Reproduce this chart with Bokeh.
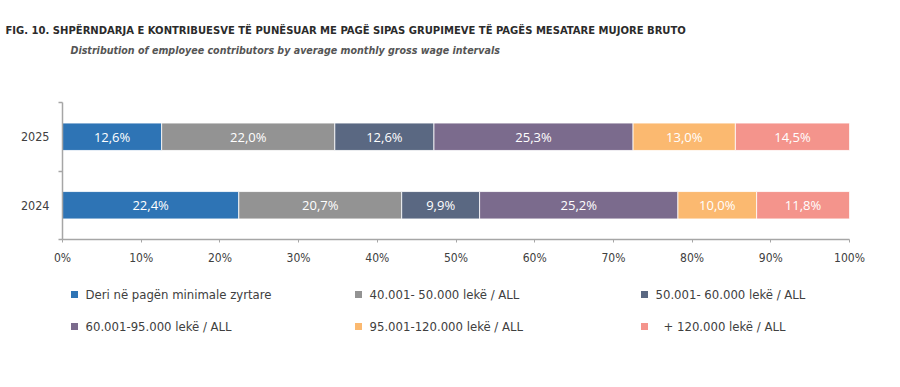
from bokeh.plotting import figure
from bokeh.layouts import column
from bokeh.models import Range1d, FixedTicker, ColumnDataSource, Title
from bokeh.core.properties import value
from bokeh.embed import file_html
from bokeh.resources import INLINE

# ---- data -------------------------------------------------------------
years = ["2025", "2024"]
year_pos = [1, 0]

series_names = [
    "Deri në pagën minimale zyrtare",
    "40.001- 50.000 lekë / ALL",
    "50.001- 60.000 lekë / ALL",
    "60.001-95.000 lekë / ALL",
    "95.001-120.000 lekë / ALL",
    "+ 120.000 lekë / ALL",
]
s_min_wage = [12.6, 22.4]
s_40_50 = [22.0, 20.7]
s_50_60 = [12.6, 9.9]
s_60_95 = [25.3, 25.2]
s_95_120 = [13.0, 10.0]
s_120_plus = [14.5, 11.8]
series_values = [s_min_wage, s_40_50, s_50_60, s_60_95, s_95_120, s_120_plus]

x_ticks = [0, 10, 20, 30, 40, 50, 60, 70, 80, 90, 100]
x_tick_labels = ["0%", "10%", "20%", "30%", "40%", "50%", "60%", "70%", "80%", "90%", "100%"]

title_text = "FIG. 10. SHPËRNDARJA E KONTRIBUESVE TË PUNËSUAR ME PAGË SIPAS GRUPIMEVE TË PAGËS MESATARE MUJORE BRUTO"
subtitle_text = "Distribution of employee contributors by average monthly gross wage intervals"

colors = ["#2e74b5", "#939393", "#5a6882", "#7b6b8d", "#fbb970", "#f4948c"]

NARROW = "DejaVu Sans Condensed"
TEXT_COL = "#404040"
W = 900
LEFT, RIGHT = 62, 51   # frame borders shared by all three strips


def strip(height):
    """A blank strip whose data units are canvas pixels (y grows downward)."""
    f = figure(width=W, height=height, x_range=Range1d(LEFT, W - RIGHT), y_range=Range1d(height, 0),
               toolbar_location=None, output_backend="svg")
    f.axis.visible = False
    f.grid.visible = False
    f.outline_line_color = None
    f.min_border = 0
    f.min_border_left = LEFT
    f.min_border_right = RIGHT
    return f


# ---- title strip (titles stack outward from the frame) -----------------
top_h = 95
top = figure(width=W, height=top_h, x_range=Range1d(0, 1), y_range=Range1d(0, 1),
             toolbar_location=None, output_backend="svg", title=None)
top.axis.visible = False
top.grid.visible = False
top.outline_line_color = None
top.min_border = 0
top.min_border_left = LEFT
top.min_border_right = RIGHT
top.min_border_top = 60
top.min_border_bottom = 0
top.add_layout(Title(text=subtitle_text, align="left", offset=70 - LEFT, standoff=9,
                     text_font=NARROW, text_font_style="bold italic",
                     text_font_size="10.6px", text_color="#555555"), "above")
top.add_layout(Title(text=title_text, align="left", offset=5 - LEFT, standoff=2,
                     text_font=NARROW, text_font_style="bold",
                     text_font_size="11.15px", text_color="#2b2b2b"), "above")

# ---- stacked bars ------------------------------------------------------
mid_h = 175
p = figure(width=W, height=mid_h, x_range=Range1d(0, 100), y_range=Range1d(-0.5, 1.5),
           toolbar_location=None, output_backend="svg")
p.min_border_left = LEFT
p.min_border_right = RIGHT
p.min_border_top = 7
p.min_border_bottom = 31
p.outline_line_color = None
p.grid.visible = False

keys = [f"s{i}" for i in range(len(series_values))]
data = {"y": year_pos}
for k, vals in zip(keys, series_values):
    data[k] = vals
src = ColumnDataSource(data)
p.hbar_stack(keys, y="y", height=0.4, color=colors, line_color="white", line_width=0.8, source=src)

# value labels, centred in each segment
lx, ly, lt = [], [], []
for row, yp in enumerate(year_pos):
    left = 0.0
    for vals in series_values:
        v = vals[row]
        lx.append(left + v / 2)
        ly.append(yp)
        lt.append(f"{v:.1f}".replace(".", ",") + "%")
        left += v
p.text(x=lx, y=ly, text=lt, text_font=value("Open Sans"), text_font_size="13px",
       text_color="white", text_align="center", text_baseline="middle")

xa = p.xaxis[0]
xa.ticker = FixedTicker(ticks=x_ticks, minor_ticks=[])
xa.major_label_overrides = {t: lab for t, lab in zip(x_ticks, x_tick_labels)}
xa.axis_line_color = "#a6a6a6"
xa.axis_line_width = 1.5
xa.major_tick_line_color = "#a6a6a6"
xa.major_tick_out = 3
xa.major_tick_in = 0
xa.major_label_text_font = NARROW
xa.major_label_text_font_size = "12px"
xa.major_label_text_color = TEXT_COL
xa.major_label_standoff = 8

ya = p.yaxis[0]
ya.ticker = FixedTicker(ticks=year_pos, minor_ticks=[-0.5, 0.5, 1.5])
ya.major_label_overrides = {yp: yr for yp, yr in zip(year_pos, years)}
ya.axis_line_color = "#a6a6a6"
ya.axis_line_width = 1.5
ya.major_tick_out = 0
ya.major_tick_in = 0
ya.minor_tick_out = 4
ya.minor_tick_in = 0
ya.minor_tick_line_color = "#a6a6a6"
ya.minor_tick_line_width = 1.5
ya.major_label_text_font = NARROW
ya.major_label_text_font_size = "12.5px"
ya.major_label_text_color = TEXT_COL
ya.major_label_standoff = 9

# ---- legend strip ------------------------------------------------------
bot_h = 387 - top_h - mid_h
leg = strip(bot_h)
col_x = [74, 358, 644]
row_y = [24, 56]
text_gap = [11, 11, 11, 11, 11, 19]   # last label sits a little further from its swatch
sq_x, sq_y, tx, ty = [], [], [], []
for i in range(len(series_names)):
    c, r = i % 3, i // 3
    sq_x.append(col_x[c])
    sq_y.append(row_y[r])
    tx.append(col_x[c] + text_gap[i])
    ty.append(row_y[r])
leg.scatter(x=sq_x, y=sq_y, marker="square", size=7, color=colors, line_color=None)
leg.text(x=tx, y=ty, text=series_names, text_font=value(NARROW), text_font_size="13px",
         text_color=TEXT_COL, text_baseline="middle")

layout = column(top, p, leg, spacing=0)
open("out.html", "w").write(file_html(layout, INLINE))
